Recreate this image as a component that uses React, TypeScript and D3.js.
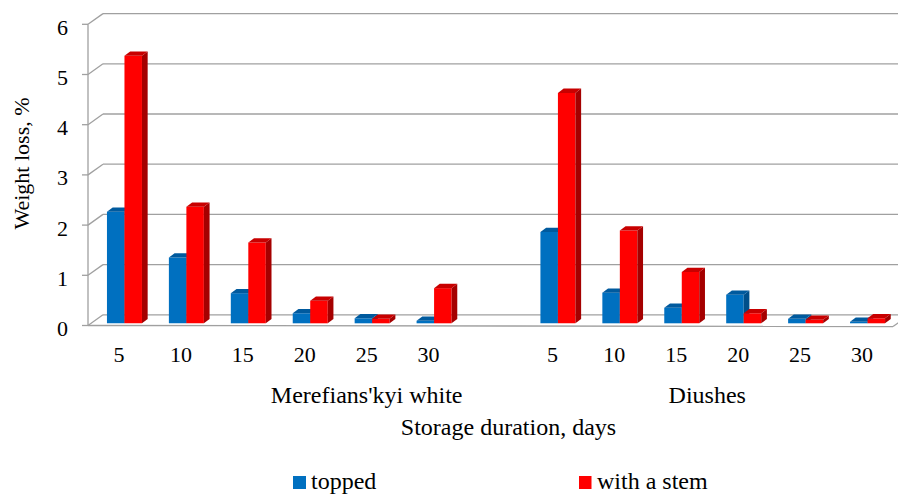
import React from "react";
import * as d3 from "d3";

const days = ["5", "10", "15", "20", "25", "30"];
const groups = ["Merefians'kyi white", "Diushes"];
const toppedMerefians = [2.22, 1.31, 0.6, 0.2, 0.1, 0.05];
const stemMerefians = [5.33, 2.32, 1.61, 0.45, 0.09, 0.7];
const toppedDiushes = [1.82, 0.61, 0.31, 0.57, 0.09, 0.03];
const stemDiushes = [4.59, 1.85, 1.02, 0.2, 0.07, 0.1];
const yTicks = [0, 1, 2, 3, 4, 5, 6];
const seriesNames = ["topped", "with a stem"];

const W = 898;
const H = 494;
const FONT = "Liberation Serif";

const slots = d3.range(13).map(String);
const x = d3.scaleBand<string>().domain(slots).range([88, 893]).paddingInner(0).paddingOuter(0);
const y = d3.scaleLinear().domain([0, 6]).range([325.5, 24.3]);

const DX = 15;
const DY = -10.7;
const BDX = 5.7;
const BDY = -4.3;
const BAR_W = 17.5;
const BASE_SHIFT = -2.2;
const X_SHIFT = 5.5;

const colors = {
  topped: { front: "#0070C0", side: "#004F8A", top: "#005A9E" },
  stem: { front: "#FF0000", side: "#A50000", top: "#C80000" },
};

type Bar = { x0: number; v: number; c: typeof colors.topped };

function Bar3D({ x0, v, c }: Bar) {
  const base = y(0) + BASE_SHIFT;
  const top = y(v) + BASE_SHIFT;
  const x1 = x0 + BAR_W;
  const front = `M${x0},${base}L${x1},${base}L${x1},${top}L${x0},${top}Z`;
  const side = `M${x1},${base}L${x1 + BDX},${base + BDY}L${x1 + BDX},${top + BDY}L${x1},${top}Z`;
  const topF = `M${x0},${top}L${x1},${top}L${x1 + BDX},${top + BDY}L${x0 + BDX},${top + BDY}Z`;
  return (
    <g>
      <path d={front} fill={c.front} />
      <path d={side} fill={c.side} />
      <path d={topF} fill={c.top} />
    </g>
  );
}

export default function App() {
  const groupData = [
    { name: groups[0], topped: toppedMerefians, stem: stemMerefians, offset: 0, labelSlot: 4 },
    { name: groups[1], topped: toppedDiushes, stem: stemDiushes, offset: 7, labelSlot: 9.5 },
  ];
  const bw = x.bandwidth();
  const center = (k: number) => (x("0") as number) + (k + 0.5) * bw;
  const grid = "#A0A0A0";
  const ts = { fontFamily: FONT };

  return (
    <svg width={W} height={H} style={{ position: "absolute", left: 0, top: 0, background: "#fff", fontFamily: FONT }}>
      <rect x={0} y={0} width={W} height={H} fill="#fff" />
      {yTicks.map((t) => (
        <g key={t}>
          <line x1={88} y1={y(t)} x2={88 + DX} y2={y(t) + DY} stroke={grid} strokeWidth={1.3} />
          <line x1={88 + DX} y1={y(t) + DY} x2={893 + DX} y2={y(t) + DY} stroke={grid} strokeWidth={1.3} />
          <line x1={82} y1={y(t)} x2={88} y2={y(t)} stroke={grid} strokeWidth={1.3} />
          <text x={68} y={y(t) + 10.5} fontSize={22} textAnchor="end" fill="#000" style={ts}>
            {t}
          </text>
        </g>
      ))}
      <line x1={88} y1={y(0)} x2={893} y2={y(0) + 1} stroke={grid} strokeWidth={1.3} />
      <line x1={893} y1={y(0) + 1} x2={893 + DX} y2={y(0) + 1 + DY} stroke={grid} strokeWidth={1.3} />
      <line x1={88} y1={y(0)} x2={88} y2={y(6)} stroke={grid} strokeWidth={1.3} />

      {groupData.map((g) =>
        days.map((d, i) => {
          const c = center(g.offset + i) + X_SHIFT;
          return (
            <g key={g.name + d}>
              <Bar3D x0={c - BAR_W} v={g.topped[i]} c={colors.topped} />
              <Bar3D x0={c} v={g.stem[i]} c={colors.stem} />
            </g>
          );
        })
      )}

      {groupData.map((g) =>
        days.map((d, i) => (
          <text key={"l" + g.name + d} x={center(g.offset + i)} y={361.5} fontSize={22} textAnchor="middle" fill="#000" style={ts}>
            {d}
          </text>
        ))
      )}
      {groupData.map((g) => (
        <text key={"g" + g.name} x={center(g.labelSlot)} y={403} fontSize={24} textAnchor="middle" fill="#000" style={ts}>
          {g.name}
        </text>
      ))}
      <text x={508.5} y={434.5} fontSize={24} textAnchor="middle" fill="#000" style={ts}>
        Storage duration, days
      </text>
      <text transform="translate(29,163.5) rotate(-90)" fontSize={22} textAnchor="middle" fill="#000" style={ts}>
        Weight loss, %
      </text>

      <rect x={293} y={476} width={13} height={13} fill={colors.topped.front} />
      <text x={311} y={489} fontSize={24} fill="#000" style={ts}>
        {seriesNames[0]}
      </text>
      <rect x={579} y={476} width={12.5} height={13} fill={colors.stem.front} />
      <text x={597} y={489} fontSize={24} fill="#000" style={ts}>
        {seriesNames[1]}
      </text>
    </svg>
  );
}
